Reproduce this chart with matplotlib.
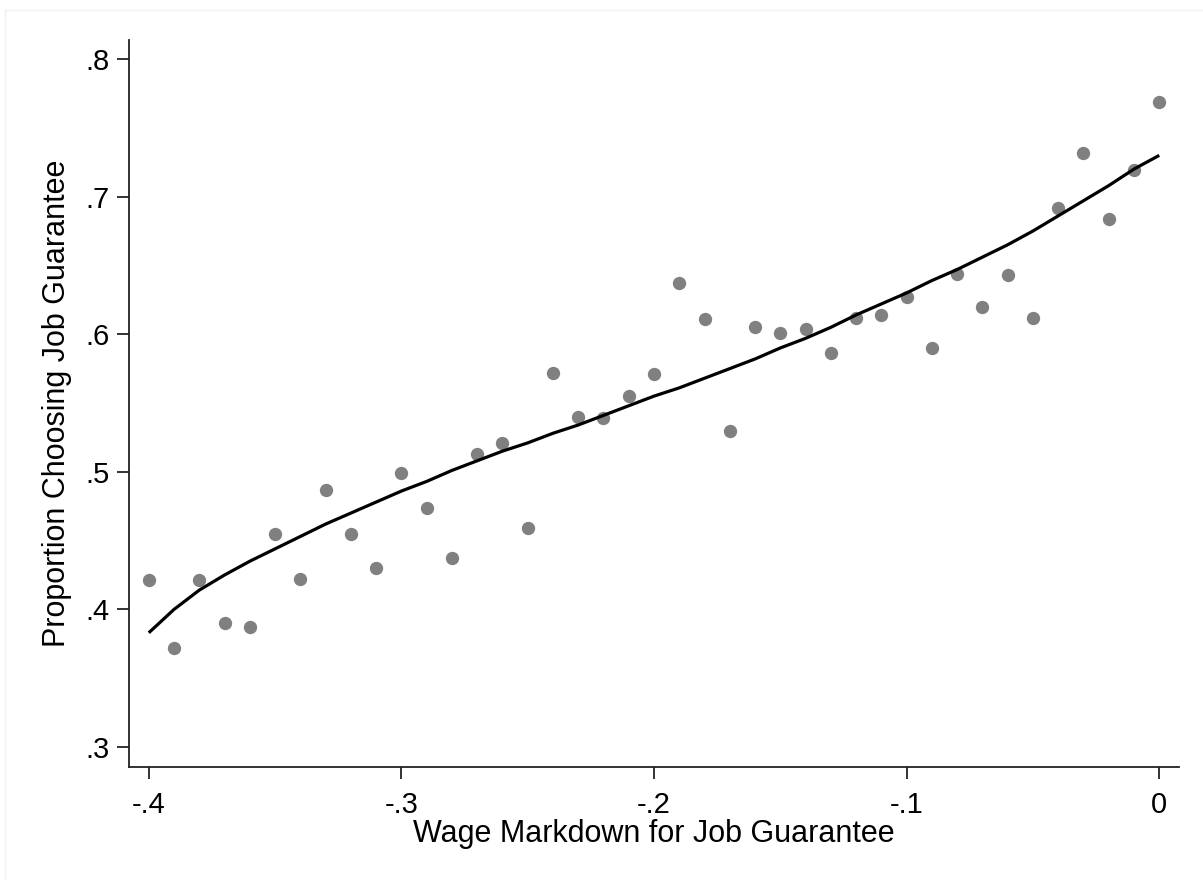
import matplotlib.pyplot as plt
from matplotlib.lines import Line2D

plt.rcParams.update({
    "font.family": ["Liberation Sans", "DejaVu Sans"],
})

# Wage markdown bins
markdown = [-0.40, -0.39, -0.38, -0.37, -0.36, -0.35, -0.34, -0.33, -0.32, -0.31,
            -0.30, -0.29, -0.28, -0.27, -0.26, -0.25, -0.24, -0.23, -0.22, -0.21,
            -0.20, -0.19, -0.18, -0.17, -0.16, -0.15, -0.14, -0.13, -0.12, -0.11,
            -0.10, -0.09, -0.08, -0.07, -0.06, -0.05, -0.04, -0.03, -0.02, -0.01,
            0.00]

# Share choosing the job guarantee in each bin
share = [0.421, 0.372, 0.421, 0.390, 0.387, 0.455, 0.422, 0.487, 0.455, 0.430,
         0.499, 0.474, 0.437, 0.513, 0.521, 0.459, 0.572, 0.540, 0.539, 0.555,
         0.571, 0.637, 0.611, 0.530, 0.605, 0.601, 0.604, 0.586, 0.612, 0.614,
         0.627, 0.590, 0.644, 0.620, 0.643, 0.612, 0.692, 0.732, 0.684, 0.719,
         0.769]

# Fitted curve
fit = [0.383, 0.400, 0.414, 0.425, 0.435, 0.444, 0.453, 0.462, 0.470, 0.478,
       0.486, 0.493, 0.501, 0.508, 0.515, 0.521, 0.528, 0.534, 0.541, 0.548,
       0.555, 0.561, 0.568, 0.575, 0.582, 0.590, 0.597, 0.605, 0.614, 0.622,
       0.630, 0.639, 0.647, 0.656, 0.665, 0.675, 0.686, 0.697, 0.708, 0.720,
       0.730]

xticks = [-0.4, -0.3, -0.2, -0.1, 0]
xticklabels = ["-.4", "-.3", "-.2", "-.1", "0"]
yticks = [0.3, 0.4, 0.5, 0.6, 0.7, 0.8]
yticklabels = [".3", ".4", ".5", ".6", ".7", ".8"]

fig = plt.figure(figsize=(12.03, 8.8), dpi=100)
ax = fig.add_axes([0.1075, 0.1288, 0.8725, 0.8257])

ax.scatter(markdown, share, s=92, color="#808080", linewidths=0, zorder=2)
ax.plot(markdown, fit, color="black", lw=2.3, solid_joinstyle="round",
        solid_capstyle="butt", zorder=3)

# Stata-like axes: only left and bottom
ax.spines["right"].set_visible(False)
ax.spines["top"].set_visible(False)
for side in ("left", "bottom"):
    ax.spines[side].set_linewidth(1.3)
    ax.spines[side].set_color("#222222")

ax.set_xlim(-0.4077, 0.0078)
ax.set_ylim(0.2857, 0.8138)
ax.set_xticks(xticks)
ax.set_xticklabels(xticklabels)
ax.set_yticks(yticks)
ax.set_yticklabels(yticklabels)
ax.tick_params(length=8.5, width=1.3, color="#222222", labelsize=21)
ax.tick_params(axis="x", pad=9)
ax.tick_params(axis="y", pad=6)

ax.set_xlabel("Wage Markdown for Job Guarantee", fontsize=22, labelpad=0)
ax.set_ylabel("Proportion Choosing Job Guarantee", fontsize=22, labelpad=9)

# faint outer frame of the graph region
fig.add_artist(Line2D([5 / 1203, 5 / 1203], [0, 1 - 10 / 880],
                      transform=fig.transFigure, color="#f0f0f0", lw=1))
fig.add_artist(Line2D([5 / 1203, 1], [1 - 10 / 880, 1 - 10 / 880],
                      transform=fig.transFigure, color="#f0f0f0", lw=1))

plt.savefig("out.png", dpi=100)
